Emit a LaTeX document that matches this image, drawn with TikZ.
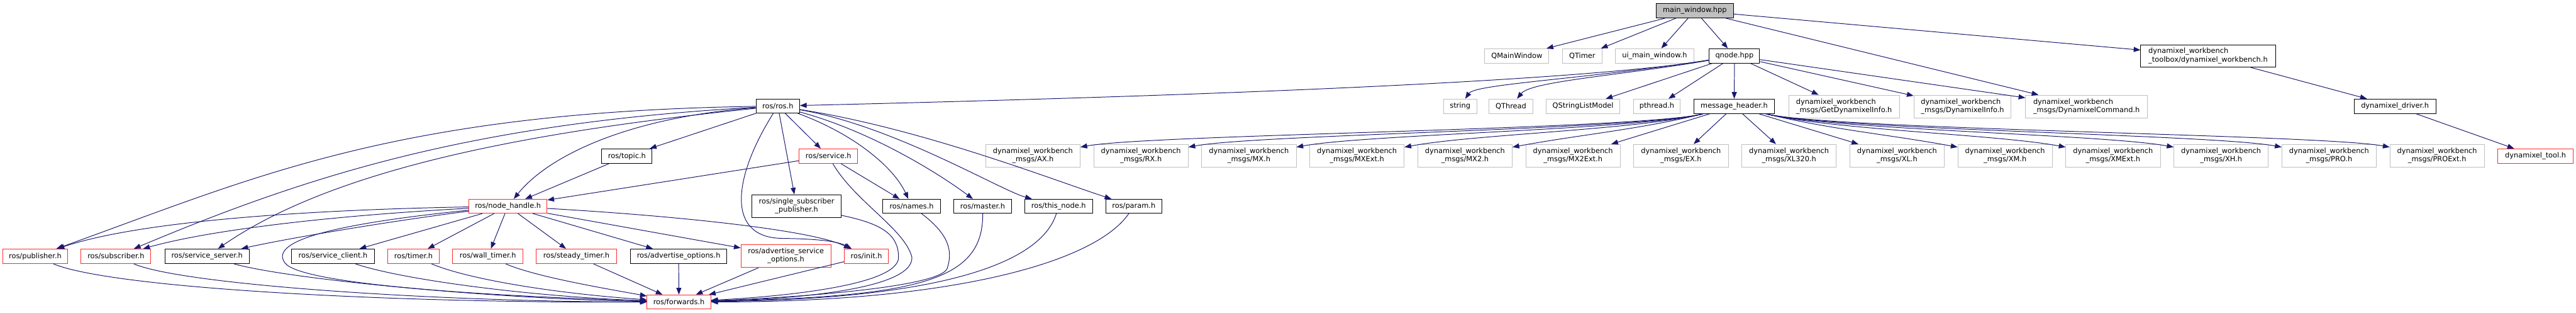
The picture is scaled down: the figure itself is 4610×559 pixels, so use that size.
\documentclass[tikz,border=0pt]{standalone}
\usepackage{fontspec}
\setmainfont{DejaVu Sans}
\usetikzlibrary{arrows.meta}
\definecolor{edgec}{HTML}{191970}
\definecolor{greyb}{HTML}{BFBFBF}
\definecolor{redb}{HTML}{FF2A2A}
\newcommand{\tl}[2]{\begin{tabular}{@{}l@{}}#1\\\multicolumn{1}{@{}c@{}}{#2}\end{tabular}}
\begin{document}
\begin{tikzpicture}[x=1pt,y=-1pt,
  every node/.style={font=\fontsize{12.8}{15}\selectfont},
  nd/.style={draw, rectangle, inner sep=0pt, line width=1.1pt, fill=white},
  blk/.style={nd, draw=black},
  gry/.style={nd, draw=greyb},
  rd/.style={nd, draw=redb},
  sz/.style 2 args={minimum width=#1pt, minimum height=#2pt},
  e/.style={draw=edgec, line width=1.1pt, -{Triangle[length=12pt,width=9pt]}}]
\fill[white] (0,0) rectangle (4610,559);
\useasboundingbox (0,0) rectangle (4610,559);
% row 0
\node[blk, fill=greyb, sz={138}{26}] (mw) at (3033,19) {main\_window.hpp};
% row 1
\node[gry, sz={115}{26}] (qmw) at (2714.5,100) {QMainWindow};
\node[gry, sz={71}{26}] (qtimer) at (2831.5,100) {QTimer};
\node[gry, sz={140}{26}] (uimw) at (2961,100) {ui\_main\_window.h};
\node[blk, sz={90}{26}] (qnode) at (3104,100) {qnode.hpp};
\node[blk, sz={241}{40}] (toolbox) at (3951.5,100) {\tl{dynamixel\_workbench}{\_toolbox/dynamixel\_workbench.h}};
% row 2
\node[blk, sz={78}{25}] (rosh) at (1392,189.5) {ros/ros.h};
\node[gry, sz={60}{26}] (string) at (2613,190) {string};
\node[gry, sz={78}{26}] (qthread) at (2704,190) {QThread};
\node[gry, sz={132}{26}] (qslm) at (2833,190) {QStringListModel};
\node[gry, sz={84}{26}] (pthread) at (2965,190) {pthread.h};
\node[blk, sz={145}{26}] (mh) at (3103.5,190) {message\_header.h};
\node[gry, sz={198}{41}] (gdi) at (3300,190.5) {\tl{dynamixel\_workbench}{\_msgs/GetDynamixelInfo.h}};
\node[gry, sz={174}{41}] (di) at (3512,190.5) {\tl{dynamixel\_workbench}{\_msgs/DynamixelInfo.h}};
\node[gry, sz={218}{41}] (dc) at (3734,190.5) {\tl{dynamixel\_workbench}{\_msgs/DynamixelCommand.h}};
\node[blk, sz={146}{26}] (driver) at (4286,190) {dynamixel\_driver.h};
% row 3
\node[blk, sz={90}{26}] (topic) at (1122,279) {ros/topic.h};
\node[rd, sz={105}{26}] (service) at (1482.5,279) {ros/service.h};
\foreach \n [count=\i from 0] in {AX,RX,MX,MXExt,MX2,MX2Ext,EX,XL320,XL,XM,XMExt,XH,PRO,PROExt}
  \node[gry, sz={169}{41}] (m\n) at ({1848.5+\i*193.3},278.5) {\tl{dynamixel\_workbench}{\_msgs/\n.h}};
\node[rd, sz={135}{26}] (tool) at (4537.5,279) {dynamixel\_tool.h};
% row 4
\node[rd, sz={140}{25}] (nh) at (909,368.5) {ros/node\_handle.h};
\node[blk, sz={159}{41}] (ssp) at (1425.5,368.5) {\tl{ros/single\_subscriber}{\_publisher.h}};
\node[blk, sz={103}{25}] (names) at (1631.5,368.5) {ros/names.h};
\node[blk, sz={103}{25}] (master) at (1758.5,368.5) {ros/master.h};
\node[blk, sz={121}{25}] (thisnode) at (1894.5,368.5) {ros/this\_node.h};
\node[blk, sz={100}{25}] (param) at (2029,368.5) {ros/param.h};
% row 5
\node[rd, sz={116}{26}] (pub) at (63,458) {ros/publisher.h};
\node[rd, sz={125}{26}] (sub) at (207.5,458) {ros/subscriber.h};
\node[blk, sz={151}{26}] (ssrv) at (370.5,458) {ros/service\_server.h};
\node[blk, sz={148}{26}] (scli) at (596,458) {ros/service\_client.h};
\node[rd, sz={92}{26}] (timer) at (740,458) {ros/timer.h};
\node[rd, sz={126}{26}] (wtimer) at (873,458) {ros/wall\_timer.h};
\node[rd, sz={143}{26}] (stimer) at (1031.5,458) {ros/steady\_timer.h};
\node[blk, sz={173}{26}] (ao) at (1214.5,458) {ros/advertise\_options.h};
\node[rd, sz={161}{41}] (aso) at (1406.5,457.5) {\tl{ros/advertise\_service}{\_options.h}};
\node[rd, sz={79}{26}] (init) at (1550.5,458) {ros/init.h};
% row 6
\node[rd, sz={114}{25}] (fwd) at (1215,539.5) {ros/forwards.h};

% ---- edges: main_window
\draw[e] (mw) -- (qmw);
\draw[e] (mw) -- (qtimer);
\draw[e] (mw) -- (uimw);
\draw[e] (mw) -- (qnode);
\draw[e] (mw) -- (dc);
\draw[e] (mw) -- (toolbox);
% qnode
\draw[e] (qnode) .. controls (2800,150) and (2000,175) .. (rosh);
\draw[e] (qnode) .. controls (2850,140) and (2640,150) .. (string);
\draw[e] (qnode) .. controls (2900,135) and (2740,145) .. (qthread);
\draw[e] (qnode) -- (qslm);
\draw[e] (qnode) -- (pthread);
\draw[e] (qnode) -- (mh);
\draw[e] (qnode) -- (gdi);
\draw[e] (qnode) -- (di);
\draw[e] (qnode) -- (dc);
\draw[e] (toolbox) -- (driver);
\draw[e] (driver) -- (tool);
% message_header
\foreach \n [count=\i from 0] in {AX,RX,MX,MXExt,MX2}
  \draw[e] (mh) .. controls (2930,232) and ({1848.5+\i*193.3+210},240) .. (m\n);
\foreach \n in {MX2Ext,EX,XL320,XL}
  \draw[e] (mh) -- (m\n);
\foreach \n [count=\i from 9] in {XM,XMExt,XH,PRO,PROExt}
  \draw[e] (mh) .. controls (3280,232) and ({1848.5+\i*193.3-210},240) .. (m\n);
% ros.h
\draw[e] (rosh) -- (topic);
\draw[e] (rosh) -- (service);
\draw[e] (rosh) -- (ssp);
\draw[e] (rosh) .. controls (1530,240) and (1600,300) .. (names);
\draw[e] (rosh) .. controls (1560,235) and (1680,310) .. (master);
\draw[e] (rosh) .. controls (1600,225) and (1790,340) .. (thisnode);
\draw[e] (rosh) .. controls (1650,230) and (1880,320) .. (param);
\draw[e] (rosh) .. controls (1310,320) and (1300,425) .. (1400,426) .. controls (1470,427) and (1500,432) .. (init);
\draw[e] (rosh) .. controls (1120,210) and (980,280) .. (nh);
\draw[e] (rosh) .. controls (700,200) and (450,320) .. (pub);
\draw[e] (rosh) .. controls (850,220) and (560,310) .. (sub);
\draw[e] (rosh) .. controls (950,235) and (600,300) .. (ssrv);
% topic, service
\draw[e] (topic) -- (nh);
\draw[e] (service) -- (nh);
\draw[e] (service) -- (names);
\draw[e] (service) .. controls (1530,360) and (1620,410) .. (1632,460) .. controls (1634,520) and (1400,535) .. (fwd);
% row 4 -> forwards
\draw[e] (ssp) .. controls (1580,400) and (1608,420) .. (1608,460) .. controls (1608,510) and (1400,530) .. (fwd);
\draw[e] (names) .. controls (1700,420) and (1705,450) .. (1695,480) .. controls (1680,515) and (1400,533) .. (fwd);
\draw[e] (master) .. controls (1760,500) and (1650,530) .. (fwd);
\draw[e] (thisnode) .. controls (1860,480) and (1650,535) .. (fwd);
\draw[e] (param) .. controls (1960,470) and (1700,540) .. (fwd);
% node_handle
\draw[e] (nh) .. controls (550,375) and (250,395) .. (pub);
\draw[e] (nh) .. controls (600,385) and (380,410) .. (sub);
\draw[e] (nh) .. controls (700,395) and (520,425) .. (ssrv);
\draw[e] (nh) -- (scli);
\draw[e] (nh) -- (timer);
\draw[e] (nh) -- (wtimer);
\draw[e] (nh) -- (stimer);
\draw[e] (nh) -- (ao);
\draw[e] (nh) -- (aso);
\draw[e] (nh) .. controls (1200,385) and (1450,410) .. (init);
\draw[e] (nh) .. controls (600,400) and (480,430) .. (510,470) .. controls (540,510) and (900,530) .. (fwd);
% row 5 -> forwards
\draw[e] (pub) .. controls (200,515) and (700,542) .. (fwd);
\draw[e] (sub) .. controls (330,510) and (800,540) .. (fwd);
\draw[e] (ssrv) .. controls (520,500) and (900,535) .. (fwd);
\draw[e] (scli) .. controls (720,500) and (950,530) .. (fwd);
\draw[e] (timer) .. controls (840,500) and (1000,525) .. (fwd);
\draw[e] (wtimer) .. controls (960,495) and (1080,515) .. (fwd);
\draw[e] (stimer) -- (fwd);
\draw[e] (ao) -- (fwd);
\draw[e] (aso) -- (fwd);
\draw[e] (init) -- (fwd);
\end{tikzpicture}
\end{document}
